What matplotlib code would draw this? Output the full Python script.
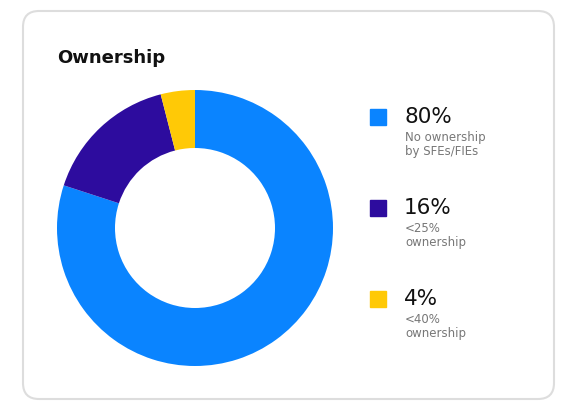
import matplotlib.pyplot as plt
from matplotlib.patches import FancyBboxPatch, Rectangle

values = [80, 16, 4]
pcts = ["80%", "16%", "4%"]
descs = ["No ownership\nby SFEs/FIEs", "<25%\nownership", "<40%\nownership"]
colors = ["#0A84FF", "#2D0C9E", "#FFC906"]

W, H = 577, 415
fig = plt.figure(figsize=(W/100, H/100), dpi=100)
bg = fig.add_axes([0, 0, 1, 1])
bg.set_xlim(0, W); bg.set_ylim(H, 0); bg.axis("off")
bg.add_patch(FancyBboxPatch((23, 11), 531, 388, boxstyle="round,pad=0,rounding_size=16",
                            fc="white", ec="#DDDDDD", lw=1.5))
bg.text(57, 58, "Ownership", fontsize=13, fontweight="semibold", va="center", color="#111")

ys = [117, 208, 299]
for y, p, d, c in zip(ys, pcts, descs, colors):
    bg.add_patch(Rectangle((370, y - 8), 16, 16, color=c))
    bg.text(404, y, p, fontsize=15.5, va="center", color="#111")
    bg.text(405, y + 14, d, fontsize=8.5, va="top", color="#777", linespacing=1.1)

cx, cy, r = 195, 228, 138
ax = fig.add_axes([(cx - r)/W, 1 - (cy + r)/H, 2*r/W, 2*r/H])
ax.pie(values, colors=colors, startangle=90, counterclock=False,
       wedgeprops=dict(width=58/138, linewidth=0))
ax.set_xlim(-1, 1); ax.set_ylim(-1, 1)
ax.set_aspect("equal")
fig.savefig("out.png", dpi=100)
